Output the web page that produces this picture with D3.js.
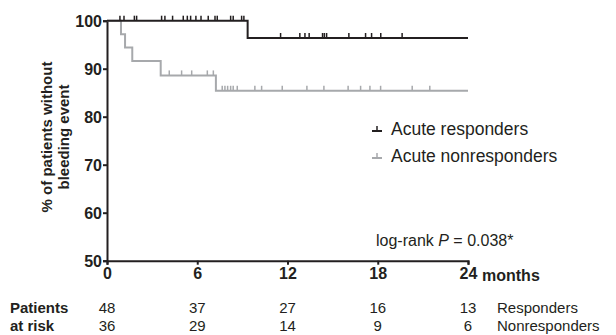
<!DOCTYPE html>
<html>
<head>
<meta charset="utf-8">
<script src="https://cdn.jsdelivr.net/npm/d3@7"></script>
<style>
  body { margin: 0; background: #fff; }
  svg { font-family: "Liberation Sans", Arial, sans-serif; }
</style>
</head>
<body>
<svg id="chart" width="616" height="335"></svg>
<script>
// step times (months) and survival (%) for each group
const respTimes = [0, 9.35];
const respSurv = [100, 96.4];
const respCensor = [0.86, 1.13, 1.82, 1.97, 3.63, 3.85, 4.36, 5.07, 5.34, 5.56, 5.91, 6.25, 6.73,
  7.18, 7.33, 8.22, 8.39, 8.95, 9.1,
  11.54, 12.82, 13.16, 13.44, 14.33, 14.45, 14.6, 16.08, 17.19, 17.59, 18.2, 19.62];

const nonTimes = [0, 0.93, 1.2, 1.68, 3.57, 7.24];
const nonSurv = [100, 97.2, 94.4, 91.6, 88.6, 85.4];
const nonCensor = [4.14, 4.96, 5.63, 6.67, 7.07,
  7.66, 7.84, 8.02, 8.22, 8.39, 8.66, 9.83, 10.28, 11.65, 13.29, 14.42, 16.03,
  16.86, 17.48, 18.19, 20.29, 21.46];

const maxMonth = 24;
const xTicks = [0, 6, 12, 18, 24];
const yTicks = [50, 60, 70, 80, 90, 100];
const riskResp = [48, 37, 27, 16, 13];
const riskNon = [36, 29, 14, 9, 6];

const colors = {resp: '#231f20', non: '#a7a9ac'};

let svg = d3.select('#chart');

let scale = {
  x: d3.scaleLinear().domain([0, maxMonth]).range([107, 468]),
  y: d3.scaleLinear().domain([50, 100]).range([260.7, 20.7]),
};

// build step data, extended to the end of follow-up
function steps(times, surv) {
  let pts = times.map((t, i) => ({t: t, s: surv[i]}));
  pts.push({t: maxMonth, s: surv[surv.length - 1]});
  return pts;
}

function survAt(times, surv, t) {
  let s = surv[0];
  times.forEach((tt, i) => { if (tt <= t) s = surv[i]; });
  return s;
}

let line = d3.line()
    .x((d) => scale.x(d.t))
    .y((d) => scale.y(d.s))
    .curve(d3.curveStepAfter);

// axes
let axisY = svg.append('g')
    .attr('transform', `translate(${scale.x(0)},0)`)
    .call(d3.axisLeft(scale.y).tickValues(yTicks).tickSize(4).tickPadding(1));

let axisX = svg.append('g')
    .attr('transform', `translate(0,${scale.y(50)})`)
    .call(d3.axisBottom(scale.x).tickValues(xTicks).tickSize(4).tickPadding(3)
        .tickFormat((d) => d));

[axisY, axisX].forEach((a) => {
  a.select('.domain').attr('stroke', '#231f20').attr('stroke-width', 2);
  a.selectAll('.tick line').attr('stroke', '#231f20').attr('stroke-width', 2);
  a.selectAll('.tick text')
      .attr('fill', '#231f20')
      .style('font-size', '16px')
      .style('font-weight', 'bold');
});
axisY.selectAll('.tick text').attr('dy', '0.36em');

svg.append('text')
    .attr('x', scale.x(24) + 14)
    .attr('y', 281)
    .attr('fill', '#231f20')
    .style('font-size', '16px')
    .style('font-weight', 'bold')
    .text('months');

// y axis title
let yTitle = svg.append('text')
    .attr('transform', 'translate(52,137) rotate(-90)')
    .attr('text-anchor', 'middle')
    .attr('fill', '#231f20')
    .style('font-size', '15px')
    .style('font-weight', 'bold');
yTitle.append('tspan').attr('x', 0).attr('dy', 0).text('% of patients without');
yTitle.append('tspan').attr('x', 0).attr('dy', 17).text('bleeding event');

// curves
const groups = [
  {key: 'non', times: nonTimes, surv: nonSurv, censor: nonCensor},
  {key: 'resp', times: respTimes, surv: respSurv, censor: respCensor},
];

groups.forEach((g) => {
  svg.append('path')
      .datum(steps(g.times, g.surv))
      .attr('fill', 'none')
      .attr('stroke', colors[g.key])
      .attr('stroke-width', 2)
      .attr('d', line);

  svg.append('g').selectAll('line')
      .data(g.censor)
      .enter()
      .append('line')
      .attr('x1', (d) => scale.x(d))
      .attr('x2', (d) => scale.x(d))
      .attr('y1', (d) => scale.y(survAt(g.times, g.surv, d)))
      .attr('y2', (d) => scale.y(survAt(g.times, g.surv, d)) - 5)
      .attr('stroke', colors[g.key])
      .attr('stroke-width', 1.5);
});

// legend
const legendItems = [
  {label: 'Acute responders', color: colors.resp, y: 135},
  {label: 'Acute nonresponders', color: colors.non, y: 162},
];
let legend = svg.append('g').selectAll('g')
    .data(legendItems)
    .enter()
    .append('g');
legend.append('line')
    .attr('x1', 372).attr('x2', 382)
    .attr('y1', (d) => d.y - 4).attr('y2', (d) => d.y - 4)
    .attr('stroke', (d) => d.color).attr('stroke-width', 2);
legend.append('line')
    .attr('x1', 377).attr('x2', 377)
    .attr('y1', (d) => d.y - 4).attr('y2', (d) => d.y - 9)
    .attr('stroke', (d) => d.color).attr('stroke-width', 1.5);
legend.append('text')
    .attr('x', 391)
    .attr('y', (d) => d.y)
    .attr('fill', '#231f20')
    .style('font-size', '17.5px')
    .text((d) => d.label);

// log-rank
let lr = svg.append('text')
    .attr('x', 376)
    .attr('y', 246)
    .attr('fill', '#231f20')
    .style('font-size', '16px');
lr.append('tspan').text('log-rank ');
lr.append('tspan').style('font-style', 'italic').text('P');
lr.append('tspan').text(' = 0.038*');

// patients at risk table
let risk = svg.append('g');
risk.append('text').attr('x', 10).attr('y', 313).text('Patients');
risk.append('text').attr('x', 10).attr('y', 331).text('at risk');
risk.selectAll('text')
    .attr('fill', '#231f20')
    .style('font-size', '15px')
    .style('font-weight', 'bold');

[{vals: riskResp, y: 313, label: 'Responders'}, {vals: riskNon, y: 331, label: 'Nonresponders'}]
    .forEach((row) => {
      risk.append('g').selectAll('text')
          .data(row.vals)
          .enter()
          .append('text')
          .attr('x', (d, i) => scale.x(xTicks[i]))
          .attr('y', row.y)
          .attr('text-anchor', 'middle')
          .attr('fill', '#231f20')
          .style('font-size', '15px')
          .text((d) => d);
      risk.append('text')
          .attr('x', 497)
          .attr('y', row.y)
          .attr('fill', '#231f20')
          .style('font-size', '15px')
          .text(row.label);
    });
</script>
</body>
</html>
